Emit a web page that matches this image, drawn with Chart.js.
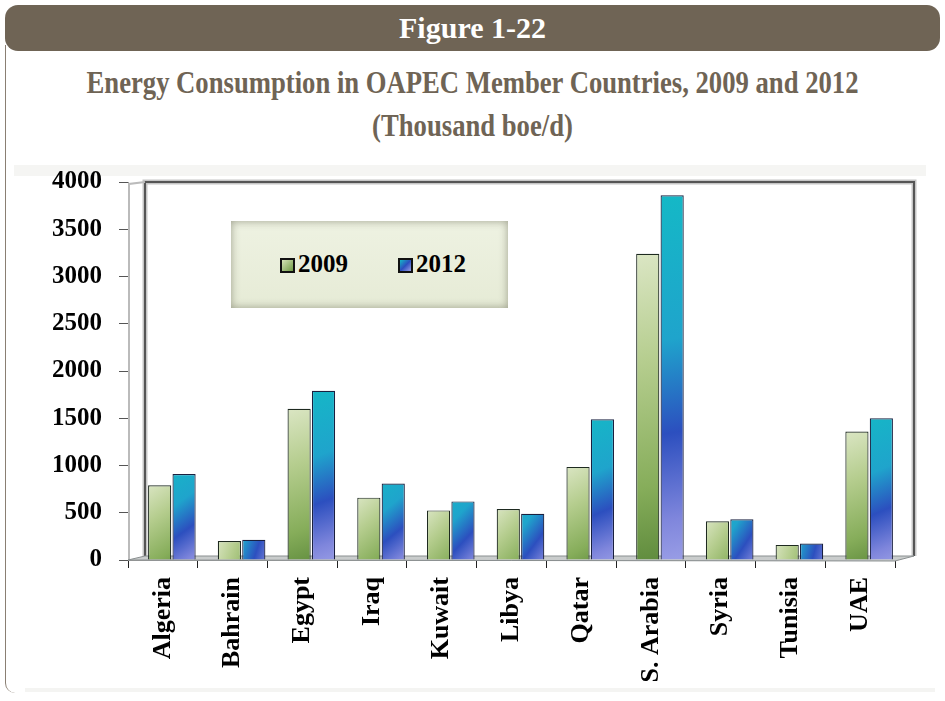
<!DOCTYPE html>
<html>
<head>
<meta charset="utf-8">
<script src="https://cdn.jsdelivr.net/npm/chart.js@4"></script>
<style>
  html, body { margin:0; padding:0; background:#ffffff; }
  body { width:945px; height:701px; position:relative; overflow:hidden; font-family:"Liberation Serif", serif; }
  #hdr { position:absolute; left:5px; top:5px; width:935px; height:46px; background:#6f6455; border-radius:13px;
         color:#fff; font-weight:bold; font-size:30px; text-align:center; line-height:46px; }
  #leftline { position:absolute; left:5px; top:45px; width:10px; height:648px; border-left:1.5px solid #8a7f73; border-bottom-left-radius:10px; }
  .sub { position:absolute; left:0; width:945px; text-align:center; color:#6f6455; font-weight:bold; font-size:31px; line-height:36px; transform:scaleX(0.86); transform-origin:center; }
  #s1 { top:65px; }
  #s2 { top:108px; }
  #bandTop { position:absolute; left:14px; top:165px; width:912px; height:11px; background:#f5f5f3; }
  #bandBot { position:absolute; left:25px; top:688px; width:910px; height:4px; background:#f4f4f2; }
  #wrap { position:absolute; left:10px; top:150px; width:925px; height:540px; }
</style>
</head>
<body>
<div id="hdr">Figure 1-22</div>
<div id="leftline"></div>
<div class="sub" id="s1">Energy Consumption in OAPEC Member Countries, 2009 and 2012</div>
<div class="sub" id="s2">(Thousand boe/d)</div>
<div id="bandTop"></div>
<div id="bandBot"></div>
<div id="wrap"><canvas id="c" width="925" height="540"></canvas></div>
<script>
const categories = ["Algeria","Bahrain","Egypt","Iraq","Kuwait","Libya","Qatar","S. Arabia","Syria","Tunisia","UAE"];
const seriesNames = ["2009","2012"];
const values2009 = [790, 200, 1600, 660, 525, 540, 985, 3240, 410, 160, 1360];
const values2012 = [910, 215, 1790, 810, 620, 490, 1490, 3860, 430, 175, 1500];
const yTicks = [0, 500, 1000, 1500, 2000, 2500, 3000, 3500, 4000];

function barGeom(ctx) {
  const chart = ctx.chart;
  const meta = chart.getDatasetMeta(ctx.datasetIndex);
  const el = meta && meta.data[ctx.dataIndex];
  const ys = chart.scales.y, xs = chart.scales.x;
  if (!ys || !xs || !chart.chartArea) return null;
  const v = ctx.raw;
  const top = ys.getPixelForValue(v), base = ys.getPixelForValue(0);
  const cx = xs.getPixelForValue(ctx.dataIndex);
  let x0 = cx - 26, x1 = cx + 26;
  if (el && isFinite(el.x) && el.width) { x0 = el.x - el.width/2; x1 = el.x + el.width/2; }
  return {top, base, x0, x1};
}
function green(ctx) {
  const g = barGeom(ctx);
  if (!g) return '#9bbb6a';
  const c = ctx.chart.ctx;
  const grad = c.createLinearGradient(g.x0, g.top, g.x1, g.base);
  grad.addColorStop(0, '#dbe6c4');
  grad.addColorStop(0.35, '#b5cd8e');
  grad.addColorStop(0.75, '#86ad5a');
  grad.addColorStop(1, '#5e8a3c');
  return grad;
}
function blue(ctx) {
  const g = barGeom(ctx);
  if (!g) return '#3a7ad0';
  const c = ctx.chart.ctx;
  const grad = c.createLinearGradient(g.x0, g.top, g.x1 + 10, g.base);
  grad.addColorStop(0, '#14b9c6');
  grad.addColorStop(0.4, '#1fa4cc');
  grad.addColorStop(0.65, '#2c4fbf');
  grad.addColorStop(0.88, '#7f86dc');
  grad.addColorStop(1, '#9a9ee6');
  return grad;
}

const framePlugin = {
  id: 'frame3d',
  beforeDatasetsDraw(chart) {
    const {ctx, chartArea:a} = chart;
    ctx.save();
    const d = 17, dy = 4;
    ctx.strokeStyle = 'rgba(90,90,90,0.35)';
    ctx.lineWidth = 5;
    ctx.beginPath();
    ctx.moveTo(a.left + d, a.bottom - dy);
    ctx.lineTo(a.left + d, a.top);
    ctx.lineTo(a.right + d + 2, a.top);
    ctx.lineTo(a.right + d + 2, a.bottom - dy);
    ctx.stroke();
    ctx.strokeStyle = '#555';
    ctx.lineWidth = 2;
    ctx.beginPath();
    ctx.moveTo(a.left + d, a.bottom - dy);
    ctx.lineTo(a.left + d, a.top);
    ctx.lineTo(a.right + d + 2, a.top);
    ctx.lineTo(a.right + d + 2, a.bottom - dy);
    ctx.stroke();
    ctx.strokeStyle = '#bbb';
    ctx.lineWidth = 2;
    ctx.beginPath();
    ctx.moveTo(a.left + 1, a.bottom);
    ctx.lineTo(a.left + 1, a.top + 2);
    ctx.lineTo(a.left + d, a.top);
    ctx.stroke();
    ctx.fillStyle = '#c9cccc';
    ctx.beginPath();
    ctx.moveTo(a.left, a.bottom);
    ctx.lineTo(a.left + d, a.bottom - dy);
    ctx.lineTo(a.right + d + 2, a.bottom - dy);
    ctx.lineTo(a.right, a.bottom + 1);
    ctx.closePath();
    ctx.fill();
    ctx.strokeStyle = '#8a8f90';
    ctx.lineWidth = 1;
    ctx.stroke();
    ctx.restore();
  }
};
const shiftPlugin = {
  id: 'shiftBars',
  beforeDatasetsDraw(chart) { chart.ctx.save(); chart.ctx.translate(9, 0); },
  afterDatasetsDraw(chart) { chart.ctx.restore(); }
};

const chart = new Chart(document.getElementById('c'), {
  type: 'bar',
  data: {
    labels: categories,
    datasets: [
      { label: seriesNames[0], data: values2009, backgroundColor: green, borderColor: '#1e2a20', borderWidth: 1.2 },
      { label: seriesNames[1], data: values2012, backgroundColor: blue, borderColor: '#1a2040', borderWidth: 1.2 }
    ]
  },
  options: {
    responsive: false,
    animation: false,
    devicePixelRatio: 1,
    layout: { padding: { top: 10, right: 40, left: 0, bottom: 0 } },
    datasets: { bar: { categoryPercentage: 0.7, barPercentage: 0.95 } },
    plugins: {
      legend: { display: false },
      tooltip: { enabled: false },
      title: { display: false }
    },
    scales: {
      x: {
        grid: { display: true, drawOnChartArea: false, drawTicks: true, tickLength: 8, color: '#222', offset: true },
        border: { display: true, color: '#999', width: 1 },
        ticks: { color: '#000', minRotation: 90, maxRotation: 90, autoSkip: false, padding: 9,
                 font: { family: '"Liberation Serif", serif', weight: 'bold', size: 26 } },
        afterFit(s) { s.height = 130; }
      },
      y: {
        min: 0, max: 4000,
        afterBuildTicks(s) { s.ticks = yTicks.map(v => ({ value: v })); },
        grid: { display: true, drawOnChartArea: false, drawTicks: true, tickLength: 9, color: '#555' },
        border: { display: true, color: '#999', width: 1 },
        ticks: { color: '#000', padding: 17, callback: (v) => String(v),
                 font: { family: '"Liberation Serif", serif', weight: 'bold', size: 25 } },
        afterFit(s) { s.width = 118; }
      }
    }
  },
  plugins: [framePlugin, shiftPlugin]
});
</script>
<div id="legend" style="position:absolute; left:231px; top:221px; width:277px; height:87px; background:linear-gradient(#eef2e2,#e6ebd6); box-shadow: inset 0 0 8px rgba(90,90,70,0.55); font-family:'Liberation Serif',serif; font-weight:bold; font-size:25px; color:#000;">
  <span style="position:absolute; left:49px; top:37px; width:11px; height:11px; border:2px solid #111; background:linear-gradient(135deg,#d6e4b8,#6f9a44);"></span>
  <span id="lg1" style="position:absolute; left:67px; top:30px; line-height:26px;">2009</span>
  <span style="position:absolute; left:167px; top:37px; width:11px; height:11px; border:2px solid #111; background:linear-gradient(135deg,#14b9c6,#2c4fbf,#9a9ee6);"></span>
  <span id="lg2" style="position:absolute; left:185px; top:30px; line-height:26px;">2012</span>
</div>
</body>
</html>
